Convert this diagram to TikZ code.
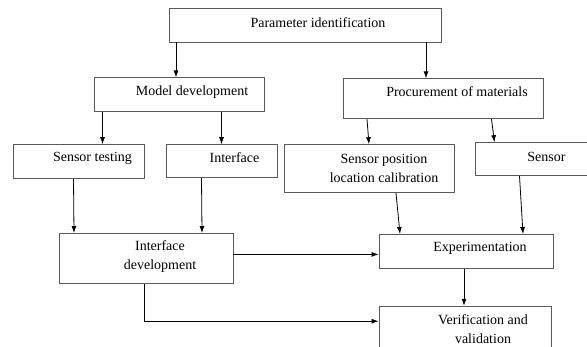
\documentclass[tikz,border=0pt]{standalone}
\usepackage{fontspec}
\setmainfont{Liberation Serif}
\usetikzlibrary{positioning}
\usetikzlibrary{arrows.meta}

\tikzset{
  box/.style={draw=black!65, line width=0.8pt, rectangle, inner sep=0pt},
  flow/.style={-{Latex[length=7pt,width=5pt]}, line width=0.8pt},
}

\begin{document}
\begin{tikzpicture}[x=1pt, y=-1pt, font=\fontsize{14}{19}\selectfont]

    \useasboundingbox (0,0) rectangle (587,346);

    %nodes
    \node[box, minimum width=272pt, minimum height=34pt, label={[xshift=13pt, yshift=2pt]center:Parameter identification}] (param) at (305,25) {};
    \node[box, minimum width=170pt, minimum height=34pt, below=35pt of param, xshift=-126pt, label={[xshift=13pt, yshift=3pt]center:Model development}] (model) {};
    \node[box, minimum width=200pt, minimum height=40pt, below=36pt of param, xshift=138pt, label={[xshift=14pt, yshift=7pt]center:Procurement of materials}] (procure) {};
    \node[box, minimum width=131pt, minimum height=34pt, below=32pt of model, xshift=-100.5pt, label={[xshift=14pt, yshift=3pt]center:Sensor testing}] (stest) {};
    \node[box, minimum width=111pt, minimum height=33pt, below=32pt of model, xshift=42.5pt, label={[xshift=13pt, yshift=3pt]center:Interface}] (iface) {};
    \node[box, minimum width=170pt, minimum height=48pt, below=25pt of procure, xshift=-74pt, label={[align=center, xshift=15pt]center:{Sensor position\\location calibration}}] (spos) {};
    \node[box, minimum width=115pt, minimum height=33pt, below=23pt of procure, xshift=89.5pt, label={[xshift=14pt, yshift=2pt]center:Sensor}] (sensor) {};
    \node[box, minimum width=174pt, minimum height=50pt, below=54pt of stest, xshift=67.5pt, label={[align=center, xshift=14pt, yshift=2pt]center:{Interface\\development}}] (idev) {};
    \node[box, minimum width=174pt, minimum height=34pt, below=41pt of spos, xshift=97pt, label={[xshift=14pt, yshift=3pt]center:Experimentation}] (exper) {};
    \node[box, minimum width=172pt, minimum height=60pt, below=37pt of exper, xshift=-1pt, label={[align=center, xshift=18pt, yshift=7pt]center:{Verification and\\validation}}] (verif) {};

    % edges
    \draw[flow] ([xshift=-3pt]model.north |- param.south) -- ([xshift=-3pt]model.north);
    \draw[flow] ([xshift=-17pt]procure.north |- param.south) -- ([xshift=-17pt]procure.north);
    \draw[flow] ([xshift=24pt]stest.north |- model.south) -- ([xshift=24pt]stest.north);
    \draw[flow] (iface.north |- model.south) -- (iface.north);
    \draw[flow] ([xshift=-2pt]spos.north |- procure.south) -- (spos.north);
    \draw[flow] ([xshift=-41pt]sensor.north |- procure.south) -- ([xshift=-38pt]sensor.north);
    \draw[flow] ([xshift=-5pt]stest.south) -- ([xshift=-72pt]idev.north);
    \draw[flow] ([xshift=-20pt]iface.south) -- ([xshift=56pt]idev.north);
    \draw[flow] ([xshift=27pt]spos.south) -- ([xshift=-66pt]exper.north);
    \draw[flow] ([xshift=-13pt]sensor.south) -- ([xshift=57pt]exper.north);
    \draw[flow] ([yshift=4pt]idev.east) -- ([yshift=4pt]idev.east -| exper.west);
    \draw[flow] ([xshift=-2pt]exper.south) -- ([xshift=-2pt]exper.south |- verif.north);
    \draw[flow] ([xshift=-2pt]idev.south) |- ([yshift=15pt]verif.west);

\end{tikzpicture}
\end{document}
